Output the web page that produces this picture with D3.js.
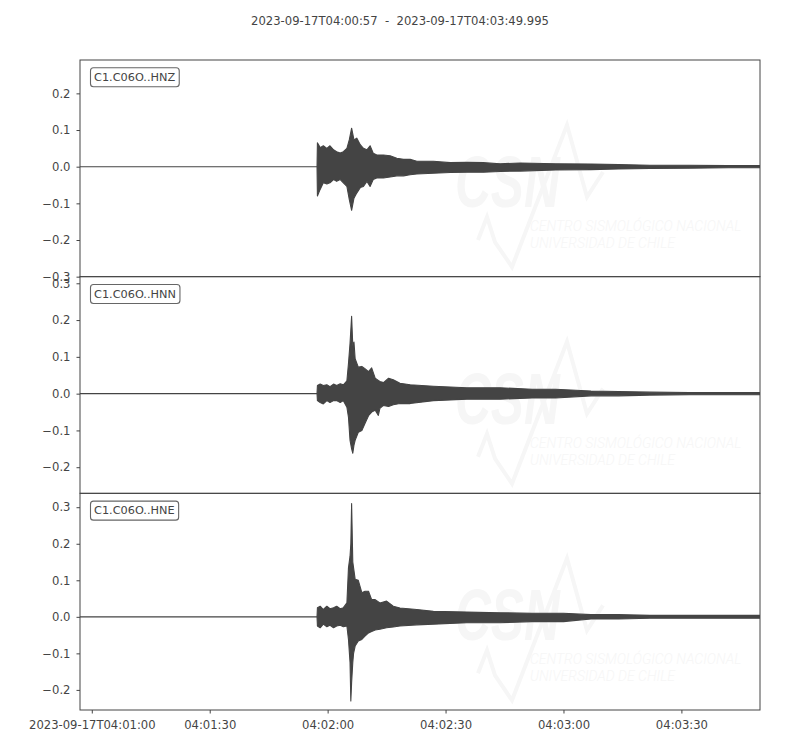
<!DOCTYPE html>
<html><head><meta charset="utf-8">
<script src="https://cdn.jsdelivr.net/npm/d3@7"></script>
<style>body{margin:0;background:#fff}</style>
</head><body><svg id="c" width="800" height="750"></svg>
<script>
// ---------- DATA ----------
const startISO = "2023-09-17T04:00:57Z";
const endISO = "2023-09-17T04:03:49.995Z";
const titleText = "2023-09-17T04:00:57  -  2023-09-17T04:03:49.995";
const channels = ["C1.C06O..HNZ", "C1.C06O..HNN", "C1.C06O..HNE"];
const xTickTimes = ["2023-09-17T04:01:00Z","2023-09-17T04:01:30Z","2023-09-17T04:02:00Z","2023-09-17T04:02:30Z","2023-09-17T04:03:00Z","2023-09-17T04:03:30Z"];
const yTicksHNZ = [-0.3, -0.2, -0.1, 0.0, 0.1, 0.2];
const yTicksHNN = [-0.2, -0.1, 0.0, 0.1, 0.2, 0.3];
const yTicksHNE = [-0.2, -0.1, 0.0, 0.1, 0.2, 0.3];
const yLimHNZ = [-0.300, 0.291];
const yLimHNN = [-0.271, 0.318];
const yLimHNE = [-0.255, 0.338];
const wmLine1 = "CENTRO SISMOLÓGICO NACIONAL";
const wmLine2 = "UNIVERSIDAD DE CHILE";
const wmLogo = "CSN";

// seconds after start time, upper / lower envelope of the trace (m/s^2)
const tHNZ  = [0, 60.3, 60.4, 61.1, 61.9, 62.8, 63.6, 64.5, 65.3, 66.2, 67.0, 67.9, 68.5, 69.1, 69.7, 70.4, 71.3, 72.1, 73.0, 73.8, 74.6, 75.5, 77.2, 78.9, 80.6, 82.3, 84.0, 85.7, 89.9, 94.2, 98.4, 102.6, 106.9, 112, 121, 130, 137, 145, 155, 165, 172.99];
const upHNZ = [0, 0, 0.065, 0.052, 0.057, 0.050, 0.057, 0.046, 0.041, 0.037, 0.041, 0.050, 0.073, 0.105, 0.073, 0.078, 0.060, 0.050, 0.046, 0.057, 0.037, 0.032, 0.032, 0.030, 0.023, 0.020, 0.020, 0.015, 0.015, 0.011, 0.012, 0.011, 0.008, 0.010, 0.008, 0.007, 0.006, 0.004, 0.004, 0.003, 0.003];
const loHNZ = [0, 0, -0.080, -0.062, -0.044, -0.047, -0.044, -0.035, -0.040, -0.035, -0.044, -0.054, -0.089, -0.119, -0.086, -0.072, -0.057, -0.054, -0.040, -0.054, -0.035, -0.031, -0.031, -0.028, -0.025, -0.025, -0.022, -0.020, -0.018, -0.016, -0.015, -0.015, -0.013, -0.012, -0.009, -0.008, -0.006, -0.005, -0.004, -0.003, -0.003];

const tHNN  = [0, 60.3, 60.4, 61.1, 61.9, 62.8, 63.6, 64.5, 65.3, 66.2, 67.0, 67.9, 68.3, 68.7, 69.1, 69.4, 69.7, 70.0, 70.8, 71.7, 72.5, 73.4, 74.2, 75.1, 75.9, 76.3, 77.2, 78.5, 79.7, 81.4, 84.0, 89.9, 94.2, 98.4, 106.9, 115, 121, 130, 137, 145, 155, 165, 172.99];
const upHNN = [0, 0, 0.022, 0.026, 0.022, 0.024, 0.019, 0.026, 0.022, 0.027, 0.024, 0.035, 0.082, 0.137, 0.210, 0.130, 0.140, 0.095, 0.072, 0.074, 0.068, 0.060, 0.070, 0.042, 0.036, 0.033, 0.030, 0.042, 0.038, 0.028, 0.024, 0.020, 0.018, 0.016, 0.016, 0.012, 0.012, 0.007, 0.006, 0.004, 0.003, 0.003, 0.003];
const loHNN = [0, 0, -0.019, -0.024, -0.028, -0.019, -0.024, -0.019, -0.019, -0.024, -0.019, -0.037, -0.064, -0.127, -0.150, -0.162, -0.140, -0.127, -0.105, -0.100, -0.081, -0.060, -0.050, -0.045, -0.059, -0.040, -0.032, -0.035, -0.030, -0.027, -0.027, -0.019, -0.017, -0.015, -0.015, -0.012, -0.012, -0.006, -0.006, -0.004, -0.003, -0.003, -0.003];

const tHNE  = [0, 60.3, 60.4, 61.1, 61.9, 62.8, 63.6, 64.5, 65.3, 66.2, 67.0, 67.9, 68.3, 68.7, 68.9, 69.1, 69.4, 69.6, 70.0, 70.8, 71.7, 72.5, 73.4, 74.2, 75.1, 76.3, 78.0, 79.7, 81.4, 85.7, 89.9, 98.4, 106.9, 115, 123, 130, 137, 145, 155, 165, 172.99];
const upHNE = [0, 0, 0.025, 0.029, 0.020, 0.029, 0.022, 0.025, 0.029, 0.022, 0.025, 0.038, 0.134, 0.166, 0.200, 0.310, 0.150, 0.134, 0.103, 0.100, 0.066, 0.070, 0.070, 0.047, 0.047, 0.038, 0.043, 0.029, 0.024, 0.020, 0.015, 0.013, 0.011, 0.010, 0.010, 0.006, 0.006, 0.004, 0.004, 0.004, 0.004];
const loHNE = [0, 0, -0.025, -0.030, -0.020, -0.027, -0.023, -0.030, -0.025, -0.023, -0.027, -0.025, -0.062, -0.125, -0.230, -0.180, -0.125, -0.100, -0.080, -0.066, -0.062, -0.053, -0.044, -0.040, -0.036, -0.034, -0.030, -0.028, -0.025, -0.022, -0.020, -0.016, -0.016, -0.013, -0.013, -0.006, -0.006, -0.004, -0.004, -0.004, -0.004];

// ---------- DRAW ----------
const FONT = "DejaVu Sans, sans-serif";
const FS = 11.6;
const INK = "#444";
const WM = "#f6f6f6";
const svg = d3.select("#c");
svg.append("rect").attr("width",800).attr("height",750).attr("fill","#fff");

const L = 80, R = 760, T = 60, B = 710;
const ph = (B - T) / 3;
const t0 = +new Date(startISO);
const x = d3.scaleUtc().domain([new Date(startISO), new Date(endISO)]).range([L, R]);

svg.append("text").attr("x", 400).attr("y", 25).attr("text-anchor","middle")
  .attr("font-family", FONT).attr("font-size", FS).attr("fill", INK)
  .style("white-space","pre").text(titleText);

const panels = [
  {name: channels[0], t: tHNZ, up: upHNZ, lo: loHNZ, lim: yLimHNZ, ticks: yTicksHNZ},
  {name: channels[1], t: tHNN, up: upHNN, lo: loHNN, lim: yLimHNN, ticks: yTicksHNN},
  {name: channels[2], t: tHNE, up: upHNE, lo: loHNE, lim: yLimHNE, ticks: yTicksHNE}
];

panels.forEach((p, i) => {
  const top = T + i * ph, bot = top + ph;
  const y = d3.scaleLinear().domain(p.lim).range([bot, top]);
  const g = svg.append("g");
  const cid = "clip" + i;
  svg.append("clipPath").attr("id", cid).append("rect")
    .attr("x", L).attr("y", top).attr("width", R - L).attr("height", ph);
  const inner = g.append("g").attr("clip-path", `url(#${cid})`);

  // watermark (faint CSN logo)
  const wm = inner.append("g").attr("transform", `translate(0,${top - 60})`);
  wm.append("polyline")
    .attr("points", "478,240 487,217 495,242 512,267 567,125 587,197 603,172")
    .attr("fill","none").attr("stroke", WM).attr("stroke-width",4).attr("stroke-linejoin","miter");
  wm.append("text").attr("transform", "translate(455,207) scale(0.69,1)")
    .attr("font-family", "Liberation Sans, sans-serif")
    .attr("font-size", 72).attr("font-weight","bold").attr("font-style","italic")
    .attr("fill", WM).text(wmLogo);
  wm.append("text").attr("x", 530).attr("y", 231)
    .attr("font-family", "Roboto, sans-serif").attr("font-weight", 300)
    .attr("font-size", 14).attr("font-style","italic")
    .attr("fill", WM).text(wmLine1);
  wm.append("text").attr("x", 530).attr("y", 248)
    .attr("font-family", "Roboto, sans-serif").attr("font-weight", 300)
    .attr("font-size", 14).attr("font-style","italic")
    .attr("fill", WM).text(wmLine2);

  // trace
  const area = d3.area()
    .x((d, j) => x(new Date(t0 + p.t[j] * 1000)))
    .y0((d, j) => y(p.lo[j]))
    .y1((d, j) => y(p.up[j]));
  inner.append("path").datum(p.t).attr("d", area)
    .attr("fill", INK).attr("stroke", INK).attr("stroke-width", 1.1).attr("stroke-linejoin","round");

  // y axis
  const ay = d3.axisLeft(y).tickValues(p.ticks).tickFormat(d3.format(".1f"))
    .tickSize(3.5).tickPadding(6).tickSizeOuter(0);
  const gy = g.append("g").attr("transform", `translate(${L},0)`).call(ay);
  gy.select(".domain").remove();
  gy.selectAll("line").attr("stroke", INK);
  gy.selectAll("text").attr("font-family", FONT).attr("font-size", FS).attr("fill", INK);

  // border
  g.append("rect").attr("x", L).attr("y", top).attr("width", R - L).attr("height", ph)
    .attr("fill","none").attr("stroke", INK).attr("stroke-width", 1);

  // channel label
  const box = g.append("rect");
  const lt = g.append("text").attr("x", 94).attr("y", top + 20.9)
    .attr("font-family", FONT).attr("font-size", 11.3).attr("fill", INK).text(p.name);
  const w = lt.node().getComputedTextLength();
  box.attr("x", 90.5).attr("y", top + 7.8).attr("width", w + 7.5).attr("height", 19)
    .attr("rx", 3).attr("ry", 3).attr("fill","#fff").attr("stroke","#666").attr("stroke-width",1.1);

  if (i === 2) {
    const fFull = d3.utcFormat("%Y-%m-%dT%H:%M:%S"), fShort = d3.utcFormat("%H:%M:%S");
    const ticks = xTickTimes.map(s => new Date(s));
    const ax = d3.axisBottom(x).tickValues(ticks)
      .tickFormat((d, k) => k === 0 ? fFull(d) : fShort(d))
      .tickSize(3.5).tickPadding(7).tickSizeOuter(0);
    const gx = g.append("g").attr("transform", `translate(0,${B})`).call(ax);
    gx.select(".domain").remove();
    gx.selectAll("line").attr("stroke", INK);
    gx.selectAll("text").attr("font-family", FONT).attr("font-size", FS).attr("fill", INK);
  }
});
</script></body></html>
